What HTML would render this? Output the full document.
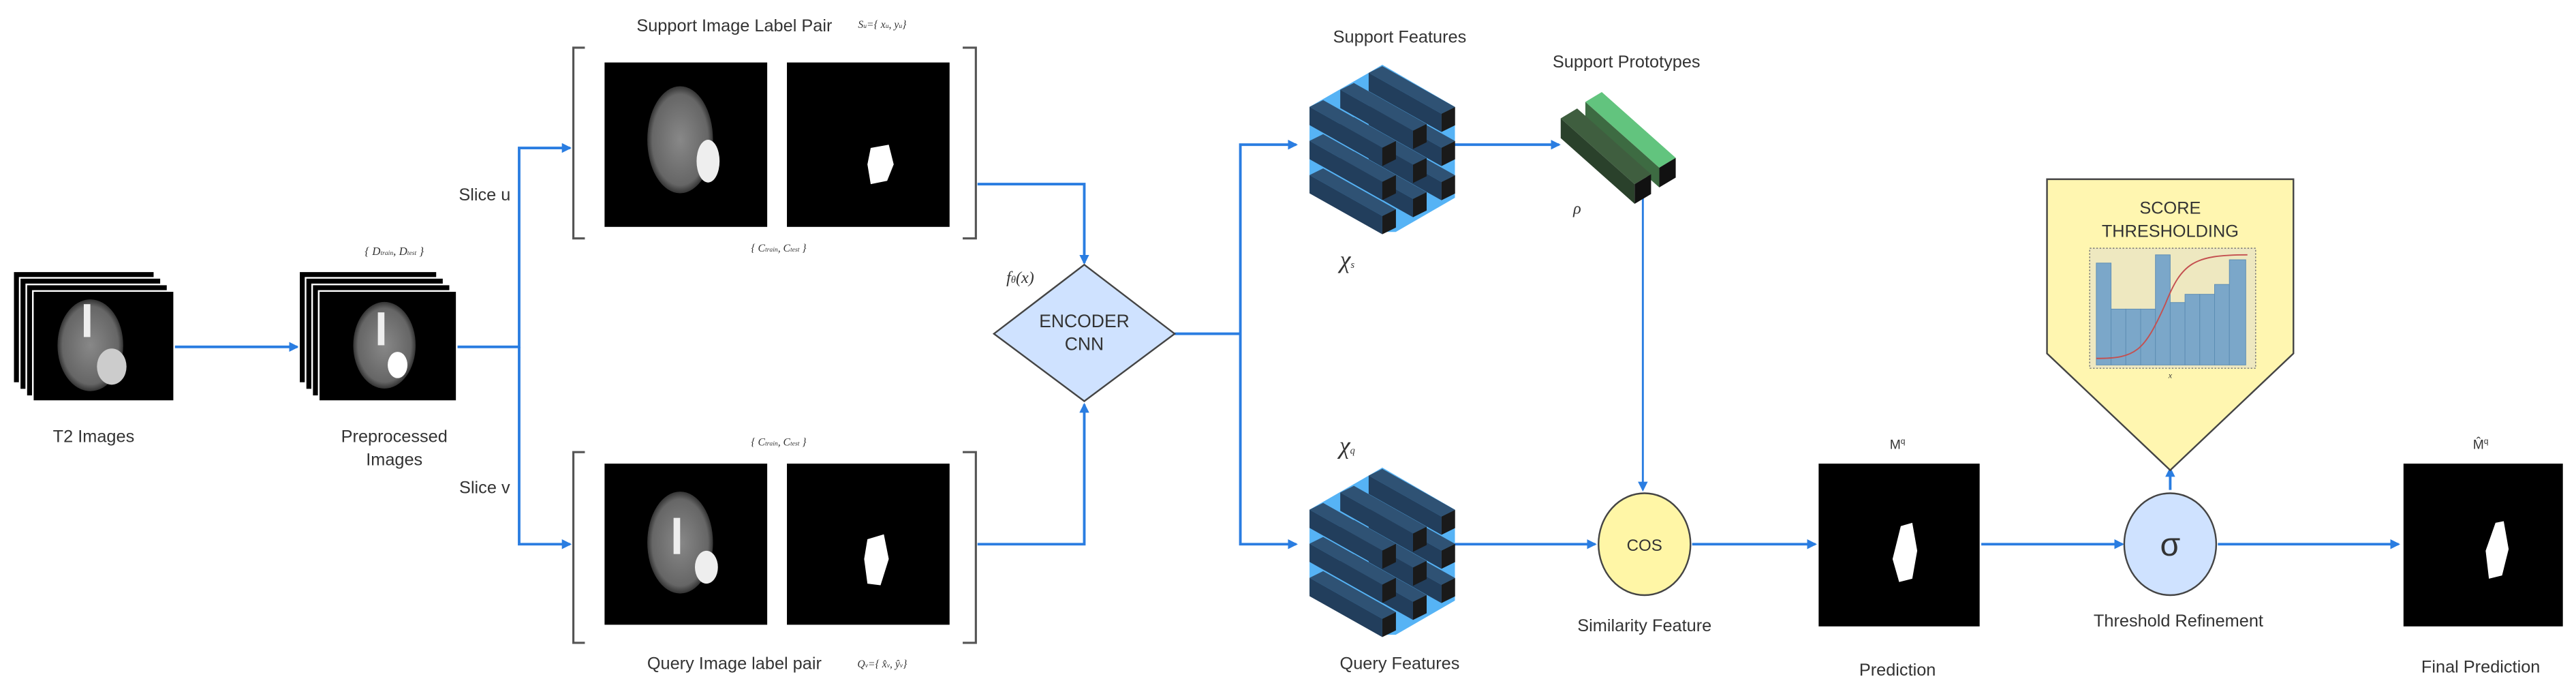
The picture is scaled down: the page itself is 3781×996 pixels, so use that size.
<!DOCTYPE html>
<html><head><meta charset="utf-8"><style>
html,body{margin:0;padding:0;background:#fff;}
svg{display:block;}
text{font-family:"Liberation Sans",sans-serif;fill:#333;}
.s{font-family:"Liberation Serif",serif;font-style:italic;}
</style></head><body>
<svg width="3781" height="996" viewBox="0 0 1568 413" preserveAspectRatio="none" xmlns="http://www.w3.org/2000/svg">
<defs>
<marker id="a" markerWidth="6" markerHeight="6" refX="5" refY="3" orient="auto" markerUnits="userSpaceOnUse"><path d="M0,0 L6,3 L0,6 z" fill="#2a7de1"/></marker>
<radialGradient id="br" cx="50%" cy="50%" r="50%"><stop offset="0" stop-color="#888"/><stop offset="0.85" stop-color="#666"/><stop offset="1" stop-color="#333"/></radialGradient>
<g id="brain">
<ellipse cx="0" cy="0" rx="20" ry="31" fill="url(#br)"/>
</g>
<g id="slab">
<polygon points="0,0 8.3,-4.1 52.6,20.8 44.3,24.9" fill="#2f5274"/>
<polygon points="0,0 44.3,24.9 44.3,36 0,11.1" fill="#223e5c"/>
<polygon points="44.3,24.9 52.6,20.8 52.6,31.9 44.3,36" fill="#1a1a1a"/>
</g>
<g id="cube">
<polygon points="797.1,65 833.1,44.3 841.4,39.4 885.6,65 885.6,120.3 849.6,141.1 841.4,141.1 797.1,116.2" fill="#56b3f5"/>
<use href="#slab" x="833.1" y="44.3"/><use href="#slab" x="833.1" y="65"/><use href="#slab" x="833.1" y="85.8"/>
<use href="#slab" x="815.8" y="54.6"/><use href="#slab" x="815.8" y="75.3"/><use href="#slab" x="815.8" y="96.1"/>
<use href="#slab" x="797.1" y="65"/><use href="#slab" x="797.1" y="85.7"/><use href="#slab" x="797.1" y="106.5"/>
</g>
</defs>
<g fill="none" stroke="#2a7de1" stroke-width="1.6">
<path d="M106,211 H181" marker-end="url(#a)"/>
<path d="M278,211 H316 V90 H347" marker-end="url(#a)"/>
<path d="M316,211 V331 H347" marker-end="url(#a)"/>
<path d="M595,112 H660 V160" marker-end="url(#a)"/>
<path d="M595,331 H660 V246" marker-end="url(#a)"/>
<path d="M715,203 H755 V88 H789" marker-end="url(#a)"/>
<path d="M755,203 V331 H789" marker-end="url(#a)"/>
<path d="M883,88 H949" marker-end="url(#a)"/>
<path d="M1000,118 V298" marker-end="url(#a)" stroke-width="1.2"/>
<path d="M883,331 H971" marker-end="url(#a)"/>
<path d="M1030,331 H1105" marker-end="url(#a)"/>
<path d="M1206,331 H1292" marker-end="url(#a)"/>
<path d="M1321,298 V285" marker-end="url(#a)"/>
<path d="M1350,331 H1460" marker-end="url(#a)"/>
</g>
<g stroke="#fff" stroke-width="1">
<rect x="8" y="165" width="86" height="68" fill="#000"/>
<rect x="12" y="169" width="86" height="68" fill="#000"/>
<rect x="16" y="173" width="86" height="68" fill="#000"/>
<rect x="20" y="177" width="86" height="67" fill="#000"/>
<rect x="182" y="165" width="84" height="68" fill="#000"/>
<rect x="186" y="169" width="84" height="68" fill="#000"/>
<rect x="190" y="173" width="84" height="68" fill="#000"/>
<rect x="194" y="177" width="84" height="67" fill="#000"/>
</g>
<use href="#brain" transform="translate(55,210) scale(1,0.9)"/>
<rect x="51" y="185" width="4" height="20" fill="#eee"/><ellipse cx="68" cy="223" rx="9" ry="11" fill="#ccc"/>
<use href="#brain" transform="translate(234,210) scale(0.95,0.85)"/>
<rect x="230" y="190" width="4" height="20" fill="#eee"/><ellipse cx="242" cy="222" rx="6" ry="8" fill="#fff"/>
<text x="57" y="269" font-size="10.5" text-anchor="middle">T2 Images</text>
<text x="240" y="269" font-size="10.5" text-anchor="middle">Preprocessed</text>
<text x="240" y="283" font-size="10.5" text-anchor="middle">Images</text>
<text x="240" y="155" font-size="7" text-anchor="middle" class="s">{ D<tspan font-size="4">train</tspan>, D<tspan font-size="4">test</tspan> }</text>
<text x="295" y="122" font-size="10.5" text-anchor="middle">Slice u</text>
<text x="295" y="300" font-size="10.5" text-anchor="middle">Slice v</text>
<g fill="none" stroke="#555" stroke-width="1.3">
<path d="M356,29 H349 V145 H356"/><path d="M586,29 H594 V145 H586"/>
<path d="M356,275 H349 V391 H356"/><path d="M586,275 H594 V391 H586"/>
</g>
<rect x="368" y="38" width="99" height="100" fill="#000"/>
<rect x="479" y="38" width="99" height="100" fill="#000"/>
<rect x="368" y="282" width="99" height="98" fill="#000"/>
<rect x="479" y="282" width="99" height="98" fill="#000"/>
<use href="#brain" transform="translate(414,85) scale(1,1.05)"/>
<ellipse cx="431" cy="98" rx="7" ry="13" fill="#eee"/>
<path d="M530,90 L541,88 L544,100 L540,110 L530,112 L528,100z" fill="#fff"/>
<use href="#brain" transform="translate(414,330) scale(1,1.0)"/>
<rect x="410" y="315" width="4" height="22" fill="#eee"/><ellipse cx="430" cy="345" rx="7" ry="10" fill="#eee"/>
<path d="M528,328 L538,325 L541,340 L536,356 L528,355 L526,340z" fill="#fff"/>
<text x="447" y="19" font-size="10.5" text-anchor="middle">Support Image Label Pair</text>
<text x="537" y="17" font-size="6.5" text-anchor="middle" class="s">S<tspan font-size="4">u</tspan>={ x<tspan font-size="4">u</tspan>, y<tspan font-size="4">u</tspan>}</text>
<text x="474" y="153" font-size="6.5" text-anchor="middle" class="s">{ C<tspan font-size="4">train</tspan>, C<tspan font-size="4">test</tspan> }</text>
<text x="474" y="271" font-size="6.5" text-anchor="middle" class="s">{ C<tspan font-size="4">train</tspan>, C<tspan font-size="4">test</tspan> }</text>
<text x="447" y="407" font-size="10.5" text-anchor="middle">Query Image label pair</text>
<text x="537" y="406" font-size="6.5" text-anchor="middle" class="s">Q<tspan font-size="4">v</tspan>={ x̂<tspan font-size="4">v</tspan>, ŷ<tspan font-size="4">v</tspan>}</text>
<polygon points="660,161 715,203 660,244 605,203" fill="#cfe2ff" stroke="#444" stroke-width="1"/>
<text x="660" y="199" font-size="11" text-anchor="middle">ENCODER</text>
<text x="660" y="213" font-size="11" text-anchor="middle">CNN</text>
<text x="621" y="172" font-size="10" text-anchor="middle" class="s">f<tspan font-size="6">θ</tspan>(x)</text>
<use href="#cube"/>
<use href="#cube" transform="translate(0,245)"/>
<text x="852" y="26" font-size="10.5" text-anchor="middle">Support Features</text>
<text x="820" y="163" font-size="15" text-anchor="middle" class="s" fill="#000">χ<tspan font-size="6">s</tspan></text>
<text x="820" y="276" font-size="15" text-anchor="middle" class="s" fill="#000">χ<tspan font-size="6">q</tspan></text>
<text x="852" y="407" font-size="10.5" text-anchor="middle">Query Features</text>
<g transform="translate(965,62)">
<polygon points="0,0 10,-6 55,34 45,40" fill="#62c47e"/>
<polygon points="0,0 45,40 45,52 0,12" fill="#3d6b42"/>
<polygon points="45,40 55,34 55,46 45,52" fill="#111"/>
</g>
<g transform="translate(950,72)">
<polygon points="0,0 10,-6 55,34 45,40" fill="#3f5e3f"/>
<polygon points="0,0 45,40 45,52 0,12" fill="#2a412b"/>
<polygon points="45,40 55,34 55,46 45,52" fill="#111"/>
</g>
<text x="990" y="41" font-size="10.5" text-anchor="middle">Support Prototypes</text>
<text x="960" y="130" font-size="10" text-anchor="middle" class="s">ρ</text>
<ellipse cx="1001" cy="331" rx="28" ry="31" fill="#fff6a6" stroke="#444" stroke-width="1"/>
<text x="1001" y="335" font-size="10" text-anchor="middle">COS</text>
<text x="1001" y="384" font-size="10.5" text-anchor="middle">Similarity Feature</text>
<rect x="1107" y="282" width="98" height="99" fill="#000"/>
<path d="M1157,320 L1164,318 L1167,335 L1164,352 L1156,354 L1152,340z" fill="#fff"/>
<text x="1155" y="273" font-size="8" text-anchor="middle">M<tspan font-size="5" dy="-3">q</tspan></text>
<text x="1155" y="411" font-size="10.5" text-anchor="middle">Prediction</text>
<ellipse cx="1321" cy="331" rx="28" ry="31" fill="#cfe2ff" stroke="#444" stroke-width="1"/>
<text x="1321" y="338" font-size="20" text-anchor="middle" fill="#222">σ</text>
<text x="1326" y="381" font-size="10.5" text-anchor="middle">Threshold Refinement</text>
<polygon points="1246,109 1396,109 1396,215 1321,286 1246,215" fill="#fff6b0" stroke="#444" stroke-width="1"/>
<text x="1321" y="130" font-size="10.5" text-anchor="middle">SCORE</text>
<text x="1321" y="144" font-size="10.5" text-anchor="middle">THRESHOLDING</text>
<g>
<rect x="1272" y="151" width="101" height="73" fill="#eee8c0" stroke="#777" stroke-width="0.6" stroke-dasharray="1,1"/>
<g fill="#7ba7c9" stroke="#5d8db3" stroke-width="0.4">
<rect x="1276" y="160" width="9" height="62"/>
<rect x="1285" y="188" width="9" height="34"/><rect x="1294" y="188" width="9" height="34"/><rect x="1303" y="188" width="9" height="34"/>
<rect x="1312" y="155" width="9" height="67"/>
<rect x="1321" y="184" width="9" height="38"/><rect x="1330" y="179" width="9" height="43"/><rect x="1339" y="179" width="9" height="43"/>
<rect x="1348" y="173" width="9" height="49"/><rect x="1357" y="158" width="10" height="64"/>
</g>
<path d="M1276,218 C1300,218 1305,214 1318,185 C1328,160 1335,155 1368,155" fill="none" stroke="#c45050" stroke-width="0.8"/>
<text x="1321" y="230" font-size="5" text-anchor="middle" class="s">x</text>
</g>
<rect x="1463" y="282" width="97" height="99" fill="#000"/>
<path d="M1519,318 L1524,317 L1527,334 L1523,350 L1515,352 L1513,335z" fill="#fff"/>
<text x="1510" y="273" font-size="8" text-anchor="middle">M̂<tspan font-size="5" dy="-3">q</tspan></text>
<text x="1510" y="409" font-size="10.5" text-anchor="middle">Final Prediction</text>
</svg>
</body></html>
